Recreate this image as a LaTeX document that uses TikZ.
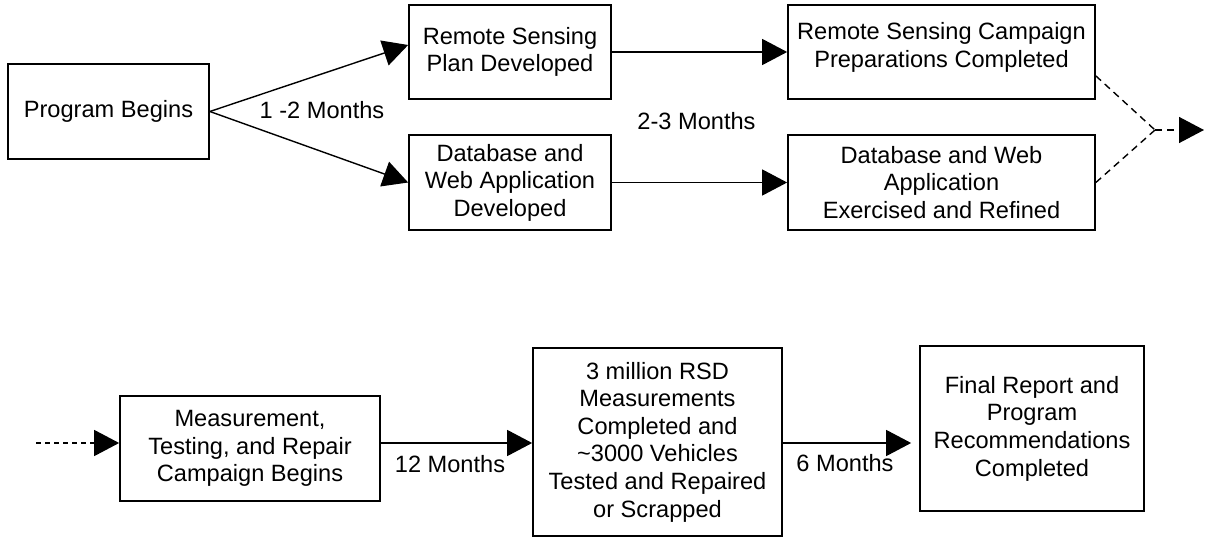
\documentclass[tikz,border=0pt]{standalone}
\usepackage{fontspec}
\setmainfont{Liberation Sans}
\usetikzlibrary{arrows.meta,calc}
\begin{document}
\begin{tikzpicture}[x=1pt,y=-1pt,
  stagebox/.style={draw=black,line width=1.7pt,inner sep=0pt,align=center,
    font=\fontsize{23.6}{27.6}\selectfont},
  lbl/.style={inner sep=0pt,font=\fontsize{23.6}{27.6}\selectfont},
  conn/.style={line width=1.4pt,-{Triangle[length=25pt,width=26pt]}},
  dconn/.style={line width=1.4pt,dash pattern=on 7pt off 5pt},
]
\useasboundingbox (0,0) rectangle (1205,537);
% top row
\node[stagebox,minimum width=201,minimum height=95] (pb) at (108.5,111.5) {Program Begins};
\node[stagebox,minimum width=202,minimum height=94] (rsp) at (510,52) {Remote Sensing\\Plan Developed};
\node[stagebox,minimum width=202,minimum height=95] (db) at (510,182.5) {Database and\\Web Application\\Developed};
\node[stagebox,minimum width=307,minimum height=94] (rsc) at (941.5,52) {Remote Sensing Campaign\\Preparations Completed\\[-14pt]\mbox{}};
\node[stagebox,minimum width=307,minimum height=95] (dbe) at (941.5,182.5) {Database and Web\\Application\\Exercised and Refined};
\node[lbl] (l12) at (322,110) {1 -2 Months};
\node[lbl] (l23) at (696.5,121) {2-3 Months};
\coordinate (m) at (1155,130);
\coordinate (e) at (1204,130);
\draw[conn] (pb.east) -- ($(rsp.west)+(0,-7)$);
\draw[conn] (pb.east) -- (db.west);
\draw[conn] (rsp.east) -- (rsc.west);
\draw[conn] (db.east) -- (dbe.west);
\draw[dconn] ($(rsc.south east)!0.25!(rsc.north east)$) -- (m);
\draw[dconn] (dbe.east) -- (m);
\draw[dconn,-{Triangle[length=25pt,width=26pt]}] (m) -- (e);
% bottom row
\node[stagebox,minimum width=260,minimum height=105] (meas) at (250,448.5) {Measurement,\\Testing, and Repair\\Campaign Begins};
\node[stagebox,minimum width=249,minimum height=188] (mil) at (657.5,442) {3 million RSD\\Measurements\\Completed and\\\textasciitilde3000 Vehicles\\Tested and Repaired\\or Scrapped};
\node[stagebox,minimum width=224,minimum height=165] (fin) at (1032,428.5) {Final Report and\\Program\\Recommendations\\Completed};
\node[lbl] (l12m) at (450,464) {12 Months};
\node[lbl] (l6m) at (845,463) {6 Months};
\coordinate (s) at (36,443);
\draw[dconn,dash pattern=on 5pt off 4pt,-{Triangle[length=25pt,width=26pt]}] (s) -- (meas.west |- s);
\draw[conn] (meas.east |- s) -- (mil.west |- s);
\draw[conn,shorten >=8pt] (mil.east |- s) -- (fin.west |- s);
\end{tikzpicture}
\end{document}
